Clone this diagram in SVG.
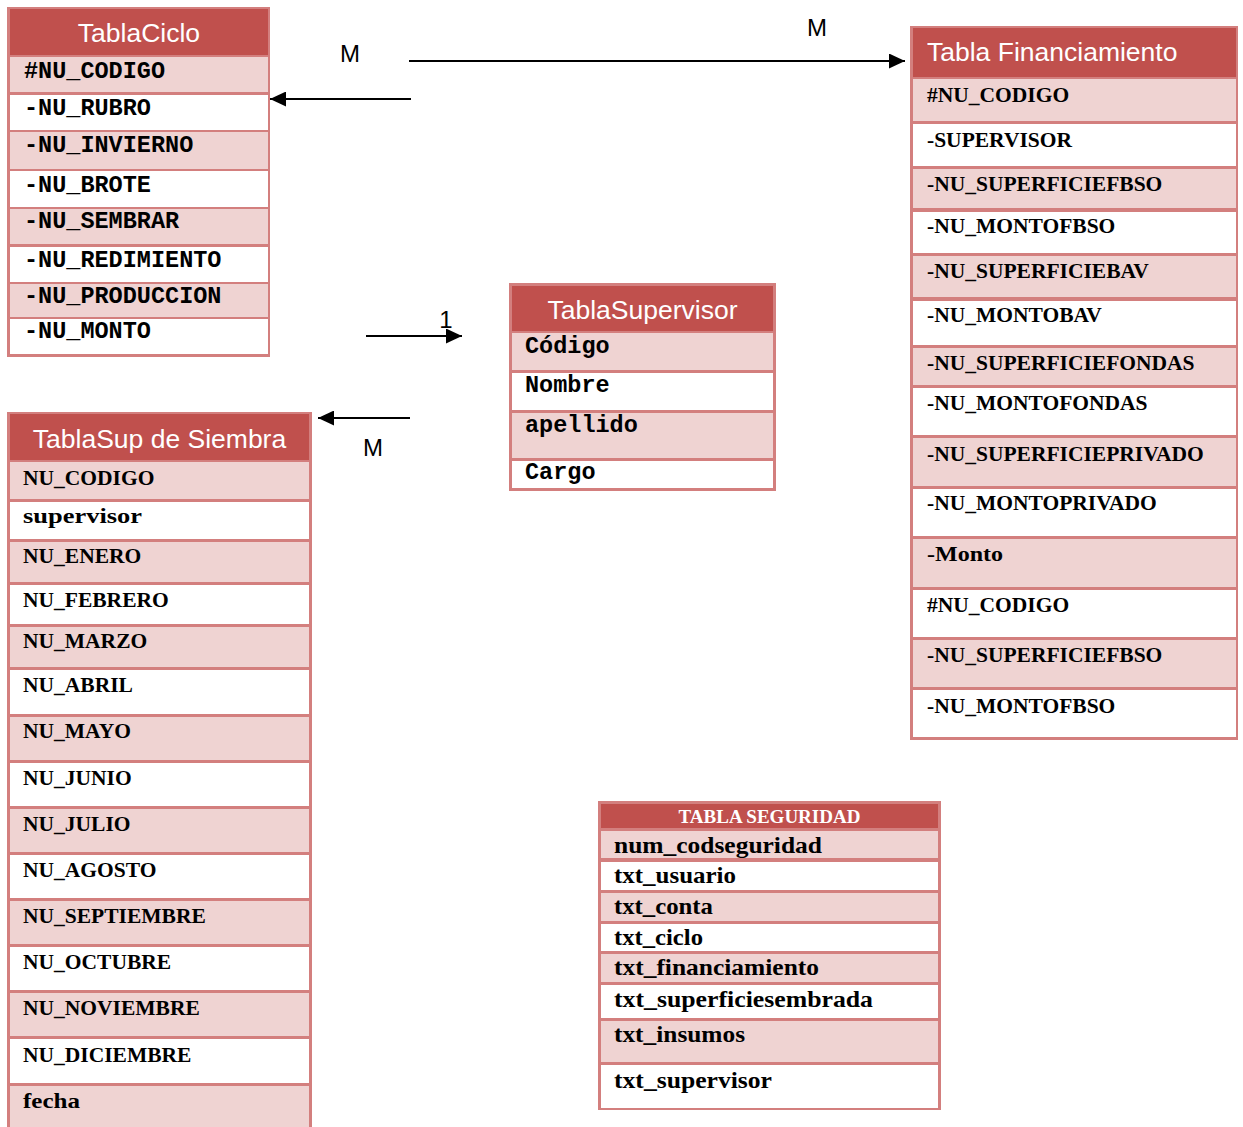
<svg xmlns="http://www.w3.org/2000/svg" width="1243" height="1127" viewBox="0 0 1243 1127">
  <defs>
    <marker id="arrow" viewBox="0 0 16 15" refX="16" refY="7.5" markerWidth="16" markerHeight="15" markerUnits="userSpaceOnUse" orient="auto">
      <path d="M0,0 L16,7.5 L0,15 Z" fill="#000"/>
    </marker>
    <style>
      .frame { fill: #d37f7e; }
      .head { fill: #c0504d; }
      .pk { fill: #efd3d2; }
      .wh { fill: #ffffff; }
      .title { font-family: "Liberation Sans", Arial, sans-serif; font-size: 26.5px; fill: #ffffff; }
      .mono { font-family: "Liberation Mono", "Courier New", monospace; font-weight: bold; font-size: 23.5px; fill: #000; }
      .serif { font-family: "Liberation Serif", "Times New Roman", serif; font-weight: bold; font-size: 21.5px; fill: #000; }
      .serif2 { font-family: "Liberation Serif", "Times New Roman", serif; font-weight: bold; font-size: 23.5px; fill: #000; }
      .serifhead { font-family: "Liberation Serif", "Times New Roman", serif; font-weight: bold; font-size: 19px; fill: #ffffff; }
      .lbl { font-family: "Liberation Sans", Arial, sans-serif; font-size: 24px; fill: #000; }
      .conn { stroke: #000; stroke-width: 2; fill: none; marker-end: url(#arrow); }
    </style>
  </defs>
  <rect width="1243" height="1127" fill="#ffffff"/>

  <!-- TablaCiclo -->
  <g id="tabla-ciclo">
    <rect class="frame" x="7" y="7" width="263" height="350"/>
    <rect class="head" x="10" y="9" width="258" height="46"/>
    <rect class="pk" x="10" y="57" width="258" height="35"/>
    <rect class="wh" x="10" y="95" width="258" height="35"/>
    <rect class="pk" x="10" y="132" width="258" height="37"/>
    <rect class="wh" x="10" y="171" width="258" height="36"/>
    <rect class="pk" x="10" y="209" width="258" height="35"/>
    <rect class="wh" x="10" y="247" width="258" height="35"/>
    <rect class="pk" x="10" y="284" width="258" height="33"/>
    <rect class="wh" x="10" y="319" width="258" height="35"/>
    <text class="title" x="139" y="42" text-anchor="middle">TablaCiclo</text>
    <text class="mono" x="24" y="78">#NU_CODIGO</text>
    <text class="mono" x="24" y="115">-NU_RUBRO</text>
    <text class="mono" x="24" y="152">-NU_INVIERNO</text>
    <text class="mono" x="24" y="192">-NU_BROTE</text>
    <text class="mono" x="24" y="228">-NU_SEMBRAR</text>
    <text class="mono" x="24" y="267">-NU_REDIMIENTO</text>
    <text class="mono" x="24" y="303">-NU_PRODUCCION</text>
    <text class="mono" x="24" y="338">-NU_MONTO</text>
  </g>

  <!-- TablaSupervisor -->
  <g id="tabla-supervisor">
    <rect class="frame" x="509" y="283" width="267" height="208"/>
    <rect class="head" x="512" y="286" width="261" height="45"/>
    <rect class="pk" x="512" y="333" width="261" height="37"/>
    <rect class="wh" x="512" y="373" width="261" height="37"/>
    <rect class="pk" x="512" y="413" width="261" height="45"/>
    <rect class="wh" x="512" y="461" width="261" height="27"/>
    <text class="title" x="642.5" y="319" text-anchor="middle">TablaSupervisor</text>
    <text class="mono" x="525" y="353">Código</text>
    <text class="mono" x="525" y="392">Nombre</text>
    <text class="mono" x="525" y="432">apellido</text>
    <text class="mono" x="525" y="479">Cargo</text>
  </g>

  <!-- Tabla Financiamiento -->
  <g id="tabla-financiamiento">
    <rect class="frame" x="910" y="26" width="328" height="714"/>
    <rect class="head" x="913" y="28" width="323" height="49"/>
    <rect class="pk" x="913" y="79" width="323" height="42"/>
    <rect class="wh" x="913" y="124" width="323" height="42"/>
    <rect class="pk" x="913" y="169" width="323" height="39"/>
    <rect class="wh" x="913" y="212" width="323" height="41"/>
    <rect class="pk" x="913" y="256" width="323" height="41"/>
    <rect class="wh" x="913" y="301" width="323" height="44"/>
    <rect class="pk" x="913" y="348" width="323" height="37"/>
    <rect class="wh" x="913" y="388" width="323" height="47"/>
    <rect class="pk" x="913" y="438" width="323" height="48"/>
    <rect class="wh" x="913" y="489" width="323" height="47"/>
    <rect class="pk" x="913" y="539" width="323" height="48"/>
    <rect class="wh" x="913" y="590" width="323" height="47"/>
    <rect class="pk" x="913" y="640" width="323" height="47"/>
    <rect class="wh" x="913" y="690" width="323" height="47"/>
    <text class="title" x="927" y="61">Tabla Financiamiento</text>
    <text class="serif" x="927" y="102">#NU_CODIGO</text>
    <text class="serif" x="927" y="147">-SUPERVISOR</text>
    <text class="serif" x="927" y="191">-NU_SUPERFICIEFBSO</text>
    <text class="serif" x="927" y="233">-NU_MONTOFBSO</text>
    <text class="serif" x="927" y="278">-NU_SUPERFICIEBAV</text>
    <text class="serif" x="927" y="322">-NU_MONTOBAV</text>
    <text class="serif" x="927" y="370">-NU_SUPERFICIEFONDAS</text>
    <text class="serif" x="927" y="410">-NU_MONTOFONDAS</text>
    <text class="serif" x="927" y="461">-NU_SUPERFICIEPRIVADO</text>
    <text class="serif" x="927" y="510">-NU_MONTOPRIVADO</text>
    <text class="serif" x="927" y="561" textLength="76" lengthAdjust="spacingAndGlyphs">-Monto</text>
    <text class="serif" x="927" y="612">#NU_CODIGO</text>
    <text class="serif" x="927" y="662">-NU_SUPERFICIEFBSO</text>
    <text class="serif" x="927" y="713">-NU_MONTOFBSO</text>
  </g>

  <!-- TablaSup de Siembra (runs past the bottom edge) -->
  <g id="tabla-sup-siembra">
    <rect class="frame" x="7" y="412" width="305" height="720"/>
    <rect class="head" x="10" y="414" width="299" height="46"/>
    <rect class="pk" x="10" y="462" width="299" height="37"/>
    <rect class="wh" x="10" y="502" width="299" height="37"/>
    <rect class="pk" x="10" y="542" width="299" height="40"/>
    <rect class="wh" x="10" y="585" width="299" height="39"/>
    <rect class="pk" x="10" y="627" width="299" height="40"/>
    <rect class="wh" x="10" y="670" width="299" height="44"/>
    <rect class="pk" x="10" y="717" width="299" height="43"/>
    <rect class="wh" x="10" y="763" width="299" height="43"/>
    <rect class="pk" x="10" y="809" width="299" height="43"/>
    <rect class="wh" x="10" y="855" width="299" height="43"/>
    <rect class="pk" x="10" y="901" width="299" height="43"/>
    <rect class="wh" x="10" y="947" width="299" height="43"/>
    <rect class="pk" x="10" y="993" width="299" height="43"/>
    <rect class="wh" x="10" y="1039" width="299" height="44"/>
    <rect class="pk" x="10" y="1086" width="299" height="46"/>
    <text class="title" x="159.5" y="448" text-anchor="middle">TablaSup de Siembra</text>
    <text class="serif" x="23" y="485">NU_CODIGO</text>
    <text class="serif" x="23" y="523" textLength="119" lengthAdjust="spacingAndGlyphs">supervisor</text>
    <text class="serif" x="23" y="563">NU_ENERO</text>
    <text class="serif" x="23" y="607">NU_FEBRERO</text>
    <text class="serif" x="23" y="648">NU_MARZO</text>
    <text class="serif" x="23" y="692">NU_ABRIL</text>
    <text class="serif" x="23" y="738">NU_MAYO</text>
    <text class="serif" x="23" y="785">NU_JUNIO</text>
    <text class="serif" x="23" y="831">NU_JULIO</text>
    <text class="serif" x="23" y="877">NU_AGOSTO</text>
    <text class="serif" x="23" y="923">NU_SEPTIEMBRE</text>
    <text class="serif" x="23" y="969">NU_OCTUBRE</text>
    <text class="serif" x="23" y="1015">NU_NOVIEMBRE</text>
    <text class="serif" x="23" y="1062">NU_DICIEMBRE</text>
    <text class="serif" x="23" y="1108" textLength="57" lengthAdjust="spacingAndGlyphs">fecha</text>
  </g>

  <!-- TABLA SEGURIDAD -->
  <g id="tabla-seguridad">
    <rect class="frame" x="598" y="801" width="343" height="309"/>
    <rect class="head" x="601" y="804" width="337" height="24"/>
    <rect class="pk" x="601" y="831" width="337" height="27"/>
    <rect class="wh" x="601" y="862" width="337" height="28"/>
    <rect class="pk" x="601" y="893" width="337" height="28"/>
    <rect class="wh" x="601" y="924" width="337" height="27"/>
    <rect class="pk" x="601" y="954" width="337" height="28"/>
    <rect class="wh" x="601" y="985" width="337" height="33"/>
    <rect class="pk" x="601" y="1021" width="337" height="41"/>
    <rect class="wh" x="601" y="1065" width="337" height="43"/>
    <text class="serifhead" x="769.5" y="823" text-anchor="middle">TABLA SEGURIDAD</text>
    <text class="serif2" x="614" y="853" textLength="208" lengthAdjust="spacingAndGlyphs">num_codseguridad</text>
    <text class="serif2" x="614" y="883" textLength="122" lengthAdjust="spacingAndGlyphs">txt_usuario</text>
    <text class="serif2" x="614" y="914" textLength="99" lengthAdjust="spacingAndGlyphs">txt_conta</text>
    <text class="serif2" x="614" y="945" textLength="89" lengthAdjust="spacingAndGlyphs">txt_ciclo</text>
    <text class="serif2" x="614" y="975" textLength="205" lengthAdjust="spacingAndGlyphs">txt_financiamiento</text>
    <text class="serif2" x="614" y="1007" textLength="259" lengthAdjust="spacingAndGlyphs">txt_superficiesembrada</text>
    <text class="serif2" x="614" y="1042" textLength="131" lengthAdjust="spacingAndGlyphs">txt_insumos</text>
    <text class="serif2" x="614" y="1088" textLength="158" lengthAdjust="spacingAndGlyphs">txt_supervisor</text>
  </g>

  <!-- Relationship connectors with cardinality labels -->
  <g id="connectors">
    <path class="conn" d="M409,61 H905"/>
    <path class="conn" d="M411,99 H270"/>
    <path class="conn" d="M366,336 H462"/>
    <path class="conn" d="M410,418 H318"/>
    <text class="lbl" x="350" y="62" text-anchor="middle">M</text>
    <text class="lbl" x="817" y="36" text-anchor="middle">M</text>
    <text class="lbl" x="446" y="328" text-anchor="middle">1</text>
    <text class="lbl" x="373" y="456" text-anchor="middle">M</text>
  </g>
</svg>
